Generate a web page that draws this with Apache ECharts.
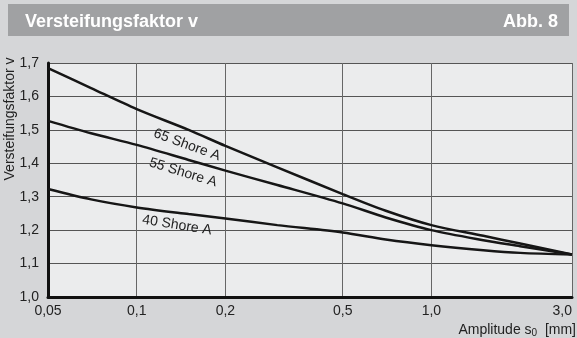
<!DOCTYPE html>
<html>
  <head>
    <meta charset="UTF-8" />
    <title>Versteifungsfaktor v</title>
    <script type="text/javascript" src="https://cdn.jsdelivr.net/npm/echarts@6/dist/echarts.min.js"></script>
  </head>

  <body style="margin: 0; background: #d5d6d8">
    <div id="chart" style="height: 338px; width: 577px"></div>
    <script>
      // Amplitude s0 [mm]
      var amplitude = [0.05, 0.07, 0.1, 0.15, 0.2, 0.3, 0.5, 0.7, 1.0, 1.5, 2.0, 3.0];
      var shore65 = [1.685, 1.625, 1.562, 1.5, 1.452, 1.388, 1.308, 1.258, 1.215, 1.183, 1.16, 1.127];
      var shore55 = [1.527, 1.49, 1.455, 1.41, 1.378, 1.335, 1.28, 1.238, 1.2, 1.17, 1.152, 1.127];
      var shore40 = [1.323, 1.292, 1.268, 1.248, 1.235, 1.215, 1.193, 1.172, 1.155, 1.14, 1.132, 1.127];
      var xTicks = [0.05, 0.1, 0.2, 0.5, 1.0, 3.0];
      var seriesNames = ["65 Shore A", "55 Shore A", "40 Shore A"];

      function pairs(ys) {
        var out = [];
        for (var i = 0; i < amplitude.length; i++) {
          out.push([amplitude[i], ys[i]]);
        }
        return out;
      }

      function komma(v) {
        var s = v < 0.1 ? v.toFixed(2) : v.toFixed(1);
        return s.replace(".", ",");
      }

      // Beschriftung direkt an der Kurve
      function curveLabel(text, coord, rot) {
        return {
          silent: true,
          symbol: "circle",
          symbolSize: 0,
          itemStyle: { color: "transparent" },
          label: {
            show: true,
            position: "inside",
            formatter: text,
            rotate: rot,
            color: "#222",
            fontSize: 14,
            fontFamily: "Liberation Sans",
          },
          data: [{ coord: coord }],
        };
      }

      function curve(name, ys, lbl) {
        return {
          name: name,
          type: "line",
          smooth: 0.3,
          symbol: "none",
          lineStyle: { color: "#161616", width: 2.5 },
          data: pairs(ys),
          markPoint: lbl,
          z: 3,
        };
      }

      var option = {
        backgroundColor: "#d5d6d8",
        animation: false,
        graphic: [
          {
            type: "rect",
            shape: { x: 8, y: 4, width: 561, height: 32 },
            style: { fill: "#a0a1a3" },
            z: -1,
          },
        ],
        title: [
          {
            text: "Versteifungsfaktor v",
            left: 20,
            top: 8,
            textStyle: {
              color: "#fff",
              fontSize: 18,
              fontWeight: "bold",
              fontFamily: "Liberation Sans",
            },
          },
          {
            text: "Abb. 8",
            right: 14,
            top: 8,
            textStyle: {
              color: "#fff",
              fontSize: 18,
              fontWeight: "bold",
              fontFamily: "Liberation Sans",
            },
          },
        ],
        grid: {
          left: 48,
          right: 5,
          top: 63,
          bottom: 41,
          outerBoundsMode: "none",
          containLabel: false,
          show: true,
          backgroundColor: "#ebeced",
          borderWidth: 0,
        },
        xAxis: {
          type: "log",
          logBase: 10,
          min: 0.05,
          max: 3,
          name: "{a|Amplitude s}{b|0}{a|  [mm]}",
          nameLocation: "end",
          nameGap: 4,
          nameMoveOverlap: false,
          nameTextStyle: {
            align: "right",
            verticalAlign: "top",
            padding: [25, 0, 0, 0],
            rich: {
              a: { fontSize: 14, color: "#222", fontFamily: "Liberation Sans" },
              b: {
                fontSize: 10,
                color: "#222",
                fontFamily: "Liberation Sans",
                padding: [6, 0, 0, 0],
              },
            },
          },
          axisLine: { show: true, onZero: false, lineStyle: { color: "#111", width: 3 } },
          axisTick: { show: false, customValues: xTicks },
          axisLabel: {
            customValues: xTicks,
            formatter: komma,
            color: "#222",
            fontSize: 14,
            fontFamily: "Liberation Sans",
            margin: 7,
            alignMaxLabel: "right",
          },
          splitLine: { show: true, lineStyle: { color: "#666", width: 1 } },
          minorSplitLine: { show: false },
        },
        yAxis: {
          type: "value",
          min: 1.0,
          max: 1.7,
          interval: 0.1,
          name: "Versteifungsfaktor v",
          nameLocation: "middle",
          nameGap: 31,
          nameMoveOverlap: false,
          nameTextStyle: {
            color: "#222",
            fontSize: 14,
            fontFamily: "Liberation Sans",
            padding: [0, 0, 0, 122],
          },
          axisLine: { show: true, lineStyle: { color: "#111", width: 3 } },
          axisTick: { show: false },
          axisLabel: {
            formatter: function (v) {
              return v.toFixed(1).replace(".", ",");
            },
            color: "#222",
            fontSize: 14,
            fontFamily: "Liberation Sans",
            margin: 9,
          },
          splitLine: { show: true, lineStyle: { color: "#555", width: 1 } },
        },
        series: [
          curve(seriesNames[0], shore65, curveLabel(seriesNames[0], [0.148, 1.455], -20)),
          curve(seriesNames[1], shore55, curveLabel(seriesNames[1], [0.1436, 1.372], -17)),
          curve(seriesNames[2], shore40, curveLabel(seriesNames[2], [0.137, 1.215], -9)),
        ],
      };

      var myChart = echarts.init(document.getElementById("chart"));
      myChart.setOption(option);
    </script>
  </body>
</html>
